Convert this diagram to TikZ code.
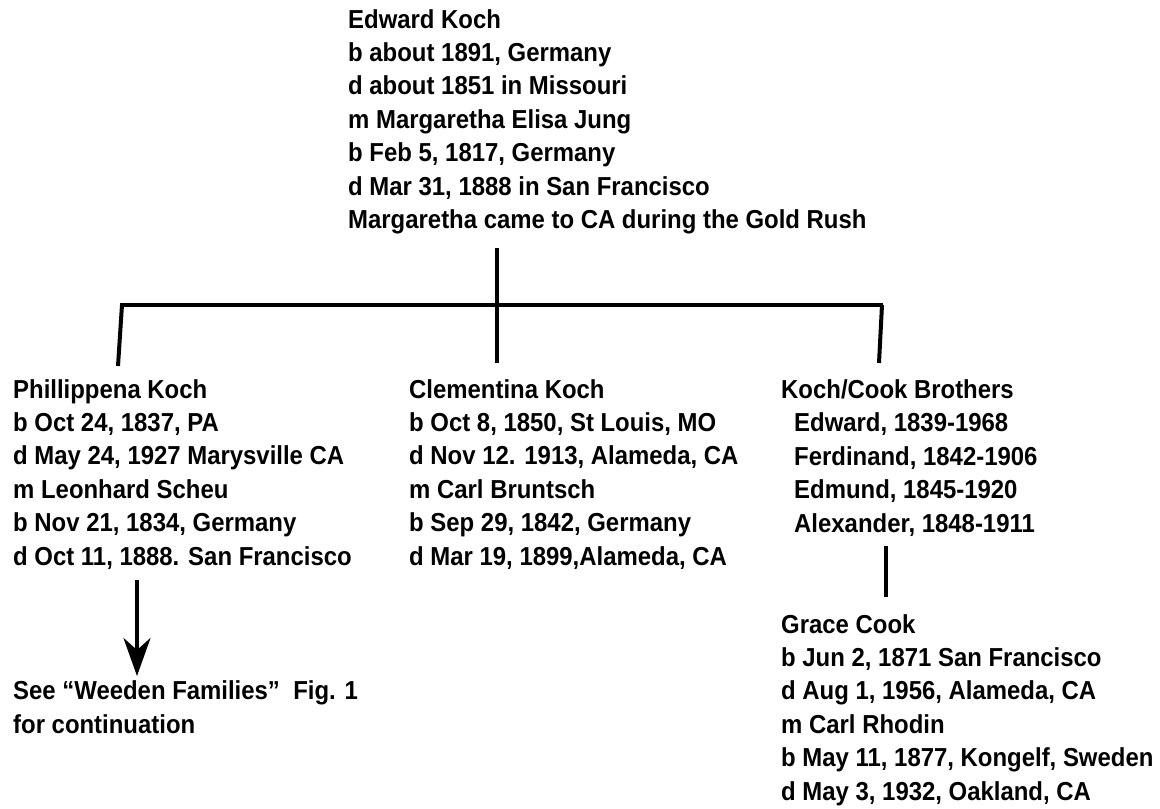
\documentclass[tikz,border=0pt]{standalone}
\usepackage{fontspec}
\setmainfont{Liberation Sans}[FakeStretch=0.92]
\usetikzlibrary{arrows.meta}
\tikzset{
  txt/.style={anchor=base west, align=left, inner sep=0pt, font=\fontsize{26}{33.4}\selectfont\bfseries},
  conn/.style={line width=4pt},
}
\begin{document}
\begin{tikzpicture}[x=1pt,y=-1pt]
\useasboundingbox[fill=white] (0,0) rectangle (1160,809);
% anchors are at the baseline of the last line
\node[txt] (top) at (348,228.5) {Edward Koch\\b about 1891, Germany\\d about 1851 in Missouri\\m Margaretha Elisa Jung\\b Feb 5, 1817, Germany\\d Mar 31, 1888 in San Francisco\\Margaretha came to CA during the Gold Rush};
\node[txt] (phil) at (13,565) {Phillippena Koch\\b Oct 24, 1837, PA\\d May 24, 1927 Marysville CA\\m Leonhard Scheu\\b Nov 21, 1834, Germany\\d Oct 11, 1888. San Francisco};
\node[txt] (clem) at (409,565) {Clementina Koch\\b Oct 8, 1850, St Louis, MO\\d Nov 12. 1913, Alameda, CA\\m Carl Bruntsch\\b Sep 29, 1842, Germany\\d Mar 19, 1899,Alameda, CA};
\node[txt] (bros) at (781,532) {Koch/Cook Brothers\\\hspace*{13pt}Edward, 1839-1968\\\hspace*{13pt}Ferdinand, 1842-1906\\\hspace*{13pt}Edmund, 1845-1920\\\hspace*{13pt}Alexander, 1848-1911};
\node[txt] (grace) at (781,800) {Grace Cook\\b Jun 2, 1871 San Francisco\\d Aug 1, 1956, Alameda, CA\\m Carl Rhodin\\b May 11, 1877, Kongelf, Sweden\\d May 3, 1932, Oakland, CA};
\node[txt] (see) at (13,733) {See \char"201CWeeden Families\char"201D\ \ Fig. 1\\for continuation};
\coordinate (topdown) at (497,248);
\coordinate (barmid) at (497,305);
\coordinate (barl) at (120,305);
\coordinate (barr) at (883,305);
\coordinate (dropl) at (118,366);
\coordinate (dropm) at (497,363);
\coordinate (dropr) at (879,363);
\coordinate (brosdown) at (886,546);
\coordinate (graceup) at (886,597);
\coordinate (arrtop) at (137,580);
\coordinate (arrbot) at (137,676);
\draw[conn] (topdown) -- (barmid);
\draw[conn] (barl) -- (barr);
\draw[conn] ([xshift=2pt]barl) -- (dropl);
\draw[conn] (barmid) -- (dropm);
\draw[conn] ([xshift=-1pt]barr) -- (dropr);
\draw[conn] (brosdown) -- (graceup);
\draw[conn, -{Stealth[length=38pt, width=27pt, inset=12pt]}] (arrtop) -- (arrbot);
\end{tikzpicture}
\end{document}
